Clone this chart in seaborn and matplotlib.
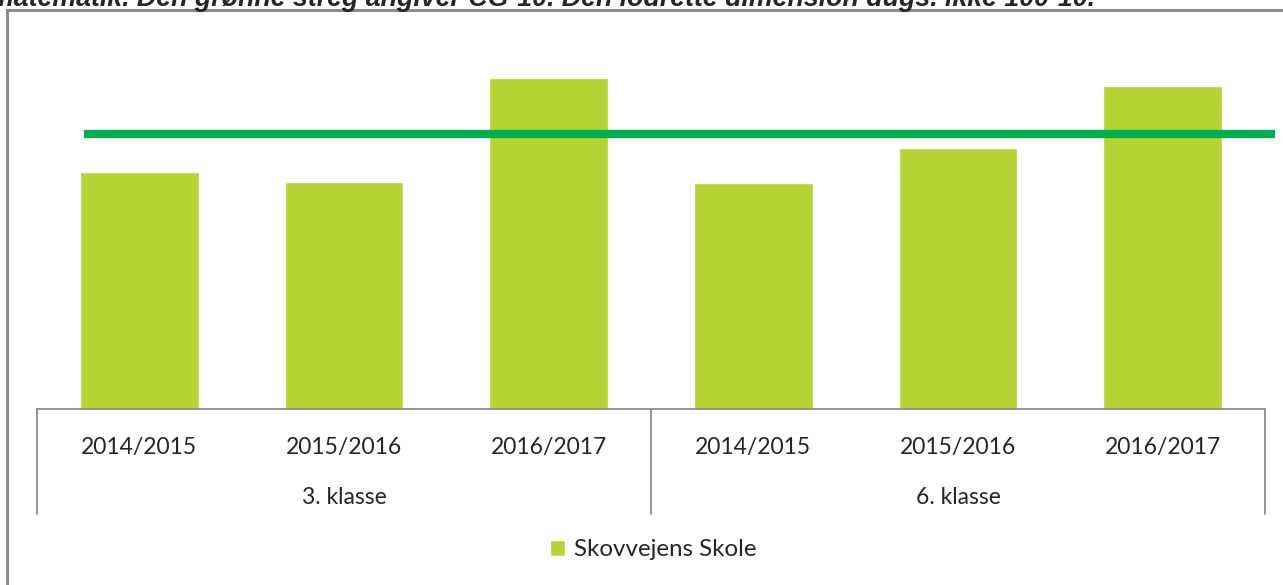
import matplotlib.pyplot as plt
import seaborn as sns
import pandas as pd
from matplotlib.patches import Rectangle
from matplotlib.transforms import blended_transform_factory

# data (arbitrary scale, no y axis shown)
groups = ["3. klasse", "3. klasse", "3. klasse", "6. klasse", "6. klasse", "6. klasse"]
years = ["2014/2015", "2015/2016", "2016/2017", "2014/2015", "2015/2016", "2016/2017"]
scores = [62.3, 59.7, 87.1, 59.5, 68.7, 85.0]
reference_line = 72.5
series_name = "Skovvejens Skole"
title = "matematik. Den grønne streg angiver CG-10. Den lodrette dimension dugs. ikke 100-10."

BAR = "#b6d433"
LINE = "#00b050"
GRID = "#8c8c8c"

sns.set_style("white")
plt.rcParams["font.family"] = ["Lato", "DejaVu Sans"]

df = pd.DataFrame({"group": groups, "year": years, "score": scores})
df["key"] = df["group"] + " " + df["year"]

fig = plt.figure(figsize=(12.83, 5.85), dpi=100)
ax = fig.add_axes([37 / 1283, 1 - 409 / 585, 1228 / 1283, 380 / 585])

sns.barplot(data=df, x="key", y="score", color=BAR, width=0.58,
            saturation=1, label=series_name, ax=ax)
ax.hlines(reference_line, -0.27, 5.55, color=LINE, lw=6, clip_on=False, zorder=3)

ax.set_ylim(0, 100)
ax.set_xlim(-0.5, 5.5)
ax.set_yticks([])
ax.set_xlabel("")
ax.set_ylabel("")
for s in ["top", "right", "left"]:
    ax.spines[s].set_visible(False)
ax.spines["bottom"].set_color(GRID)
ax.spines["bottom"].set_linewidth(1.3)

ax.set_xticks(range(len(years)))
ax.set_xticklabels(years, fontsize=16.5)
ax.tick_params(axis="x", length=0, pad=20)

# group labels and separators below the axis
tr = blended_transform_factory(ax.transData, ax.transAxes)
for name in ["3. klasse", "6. klasse"]:
    idx = df.index[df["group"] == name]
    ax.text(idx.to_numpy().mean(), -0.233, name, transform=tr,
            ha="center", va="center", fontsize=16.5)
for xs in [-0.5, 2.5, 5.5]:
    ax.plot([xs, xs], [0, -0.275], transform=tr, color=GRID, lw=1.3, clip_on=False)

leg = ax.legend(loc="center", bbox_to_anchor=(653 / 1283, 1 - 550 / 585),
                bbox_transform=fig.transFigure, frameon=False, fontsize=17.4,
                handlelength=0.65, handleheight=0.65, handletextpad=0.35)

# outer chart frame
fig.patches.append(Rectangle((7 / 1283, -0.05), 1.2, 1 - 10 / 585 + 0.05,
                             transform=fig.transFigure, fill=False,
                             edgecolor=GRID, lw=2.2))

# title, cut off at the top edge as in the source
fig.text(-10 / 1283, 1 - 6 / 585, title, fontsize=19.3, fontweight="bold", style="italic",
         family=["Liberation Sans", "DejaVu Sans"], ha="left", va="baseline")

fig.savefig("out.png", dpi=100)
